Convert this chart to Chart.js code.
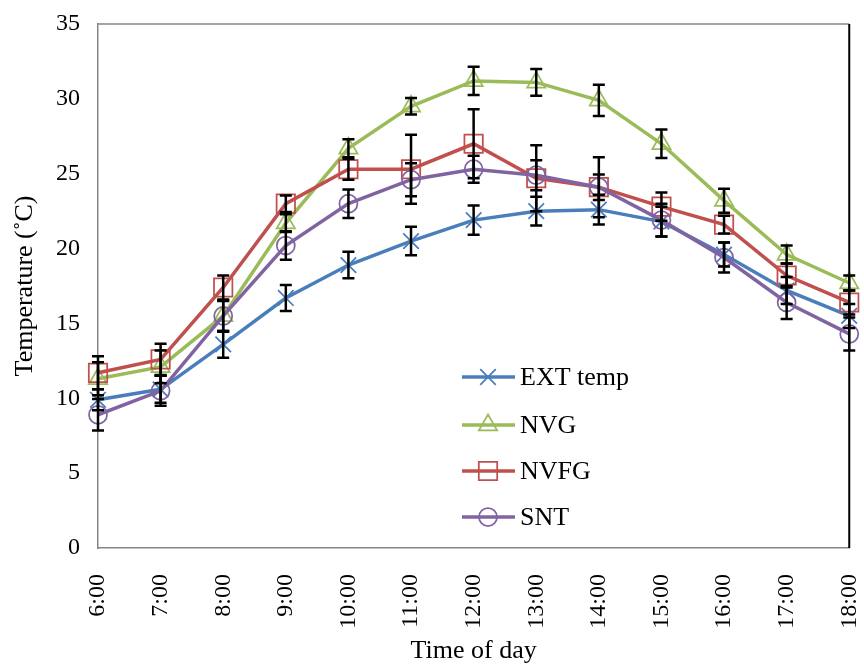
<!DOCTYPE html>
<html>
<head>
<meta charset="utf-8">
<script src="https://cdn.jsdelivr.net/npm/chart.js@4.4.1/dist/chart.umd.min.js"></script>
<style>
  html, body { margin: 0; padding: 0; background: #ffffff; }
  #wrap { width: 864px; height: 664px; }
</style>
</head>
<body>
<div id="wrap"><canvas id="c" width="864" height="664"></canvas></div>
<script>
const categories = ['6:00','7:00','8:00','9:00','10:00','11:00','12:00','13:00','14:00','15:00','16:00','17:00','18:00'];
const extTemp = [9.9, 10.6, 13.6, 16.7, 18.9, 20.5, 21.9, 22.5, 22.6, 21.8, 19.6, 17.2, 15.5];
const nvg     = [11.3, 12.1, 15.5, 21.7, 26.7, 29.5, 31.2, 31.1, 29.9, 27.0, 23.2, 19.6, 17.7];
const nvfg    = [11.7, 12.6, 17.4, 23.0, 25.3, 25.3, 27.0, 24.7, 24.1, 22.8, 21.6, 18.2, 16.4];
const snt     = [8.9, 10.5, 15.5, 20.2, 23.0, 24.6, 25.3, 24.9, 24.1, 21.9, 19.4, 16.4, 14.3];
const extErr  = [0.7, 0.9, 0.9, 0.87, 0.89, 0.95, 0.97, 0.96, 1.0, 1.0, 0.8, 0.9, 0.8];
const nvgErr  = [1.1, 1.1, 1.0, 0.6, 0.6, 0.55, 0.95, 0.9, 1.05, 0.95, 0.8, 0.6, 0.5];
const nvfgErr = [1.1, 1.05, 0.8, 0.55, 0.7, 2.3, 2.3, 2.2, 2.0, 0.95, 0.6, 0.8, 0.8];
const sntErr  = [1.05, 1.0, 1.05, 0.95, 0.95, 1.1, 0.9, 1.0, 0.85, 1.1, 1.0, 1.1, 1.1];
const yTicks = [0, 5, 10, 15, 20, 25, 30, 35];

const FONT = "'Liberation Serif', 'Times New Roman', serif";

const seriesDefs = [
  {label: 'EXT temp', data: extTemp, err: extErr, color: '#4A7EBB', style: 'crossRot', radius: 11, order: 4},
  {label: 'NVG', data: nvg, err: nvgErr, color: '#9BBB59', style: 'triangle', radius: 10.5, order: 3},
  {label: 'NVFG', data: nvfg, err: nvfgErr, color: '#C0504D', style: 'rect', radius: 13, order: 2},
  {label: 'SNT', data: snt, err: sntErr, color: '#8064A2', style: 'circle', radius: 9, order: 1}
];

const errorBarPlugin = {
  id: 'errorBars',
  afterDatasetsDraw(chart) {
    const ctx = chart.ctx;
    const xs = chart.scales.x, ys = chart.scales.y;
    ctx.save();
    ctx.strokeStyle = '#000000';
    ctx.lineWidth = 2.5;
    const cap = 6;
    seriesDefs.forEach(s => {
      s.data.forEach((v, i) => {
        const x = xs.getPixelForValue(i);
        const yt = ys.getPixelForValue(v + s.err[i]);
        const yb = ys.getPixelForValue(v - s.err[i]);
        ctx.beginPath();
        ctx.moveTo(x, yt); ctx.lineTo(x, yb);
        ctx.moveTo(x - cap, yt); ctx.lineTo(x + cap, yt);
        ctx.moveTo(x - cap, yb); ctx.lineTo(x + cap, yb);
        ctx.stroke();
      });
    });
    ctx.restore();
  }
};

const frameLegendPlugin = {
  id: 'frameLegend',
  afterDraw(chart) {
    const ctx = chart.ctx;
    const a = chart.chartArea;
    ctx.save();
    ctx.strokeStyle = '#868686';
    ctx.lineWidth = 1.5;
    ctx.beginPath(); ctx.moveTo(a.left, a.top); ctx.lineTo(a.right, a.top); ctx.stroke();
    ctx.strokeStyle = '#000000';
    ctx.lineWidth = 2;
    ctx.beginPath(); ctx.moveTo(a.right, a.top); ctx.lineTo(a.right, a.bottom); ctx.stroke();

    const rowsY = [377, 425, 471, 517];
    const x0 = 462, x1 = 515, xm = 488, xt = 520;
    seriesDefs.forEach((s, k) => {
      const y = rowsY[k];
      ctx.strokeStyle = s.color;
      ctx.lineWidth = 3.5;
      ctx.beginPath(); ctx.moveTo(x0, y); ctx.lineTo(x1, y); ctx.stroke();
      ctx.fillStyle = 'rgba(0,0,0,0)';
      ctx.strokeStyle = s.color;
      ctx.lineWidth = 1.75;
      Chart.helpers.drawPoint(ctx, {pointStyle: s.style, radius: s.radius, rotation: 0, borderWidth: 1.75}, xm, y);
      ctx.fillStyle = '#000000';
      ctx.font = '26px ' + FONT;
      ctx.textBaseline = 'middle';
      ctx.textAlign = 'left';
      ctx.fillText(s.label, xt, y + 1);
    });
    ctx.restore();
  }
};

const datasets = seriesDefs.map(s => ({
  label: s.label,
  data: s.data,
  borderColor: s.color,
  borderWidth: 3.5,
  backgroundColor: 'rgba(0,0,0,0)',
  pointStyle: s.style,
  pointRadius: s.radius,
  pointHoverRadius: s.radius,
  pointBorderColor: s.color,
  pointBackgroundColor: 'rgba(0,0,0,0)',
  pointBorderWidth: 1.75,
  tension: 0,
  fill: false,
  clip: false,
  order: s.order
}));

new Chart(document.getElementById('c'), {
  type: 'line',
  data: { labels: categories, datasets },
  options: {
    responsive: false,
    animation: false,
    devicePixelRatio: 1,
    layout: { padding: { left: 0, top: 24, right: 11, bottom: 0 } },
    plugins: { legend: { display: false }, tooltip: { enabled: false } },
    scales: {
      x: {
        type: 'category',
        offset: false,
        grid: { display: false, drawTicks: false },
        border: { display: true, color: '#868686', width: 1.5 },
        ticks: {
          color: '#000000',
          font: { family: FONT, size: 24 },
          minRotation: 90, maxRotation: 90,
          padding: 26,
          autoSkip: false
        },
        title: {
          display: true, text: 'Time of day', color: '#000000',
          font: { family: FONT, size: 26, lineHeight: 1.0 },
          padding: { top: 0, bottom: 0 }
        },
        afterFit(scale) {
          scale.height = 116;
          scale.paddingLeft = 0; scale.paddingRight = 0;
          scale.paddingTop = 0; scale.paddingBottom = 0;
        }
      },
      y: {
        min: 0, max: 35,
        grid: { display: false, drawTicks: false },
        border: { display: true, color: '#868686', width: 1.5 },
        afterBuildTicks(scale) { scale.ticks = yTicks.map(v => ({ value: v })); },
        ticks: {
          color: '#000000',
          font: { family: FONT, size: 24 },
          padding: 18
        },
        title: {
          display: true, text: 'Temperature (˚C)', color: '#000000',
          font: { family: FONT, size: 26, lineHeight: 1.0 },
          padding: { top: 12, bottom: 0 }
        },
        afterFit(scale) {
          scale.width = 98;
          scale.paddingLeft = 0; scale.paddingRight = 0;
          scale.paddingTop = 0; scale.paddingBottom = 0;
        }
      }
    }
  },
  plugins: [errorBarPlugin, frameLegendPlugin]
});
</script>
</body>
</html>
